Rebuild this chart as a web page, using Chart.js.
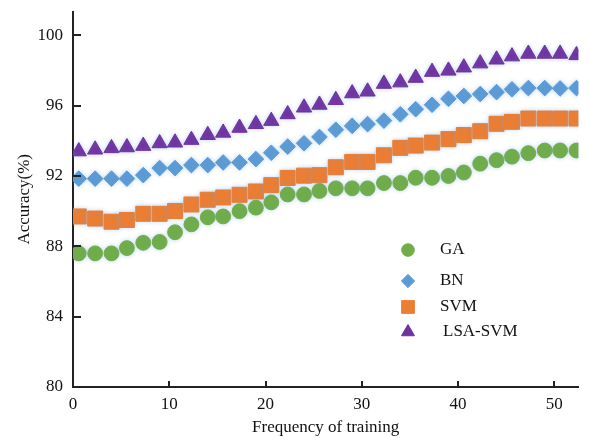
<!DOCTYPE html>
<html>
<head>
<meta charset="utf-8">
<script src="https://cdn.jsdelivr.net/npm/chart.js@4/dist/chart.umd.min.js"></script>
<style>
  html, body { margin: 0; padding: 0; background: #fff; }
  #wrap { width: 590px; height: 438px; position: relative; }
</style>
</head>
<body>
<div id="wrap"><canvas id="accChart" width="590" height="438"></canvas></div>
<script>
// training frequency (x position of each marker)
const trainingFreq = [0.6, 2.3, 4.0, 5.6, 7.3, 9.0, 10.6, 12.3, 14.0, 15.6, 17.3, 19.0, 20.6, 22.3, 24.0, 25.6,
  27.3, 29.0, 30.6, 32.3, 34.0, 35.6, 37.3, 39.0, 40.6, 42.3, 44.0, 45.6, 47.3, 49.0, 50.6, 52.3];

// accuracy (%) per method
const gaAcc = [87.6, 87.6, 87.6, 87.9, 88.2, 88.25, 88.8, 89.25, 89.65, 89.7, 90.0, 90.2, 90.5, 90.95, 90.95, 91.15,
  91.3, 91.3, 91.3, 91.6, 91.6, 91.9, 91.9, 92.0, 92.2, 92.7, 92.9, 93.1, 93.3, 93.45, 93.45, 93.45];
const bnAcc = [91.85, 91.85, 91.85, 91.85, 92.05, 92.45, 92.45, 92.62, 92.62, 92.77, 92.77, 92.96, 93.32, 93.67, 93.86, 94.22,
  94.63, 94.85, 94.95, 95.15, 95.51, 95.8, 96.05, 96.39, 96.55, 96.66, 96.77, 96.93, 97.0, 97.0, 96.98, 97.0];
const svmAcc = [89.7, 89.58, 89.4, 89.5, 89.85, 89.85, 90.01, 90.38, 90.65, 90.78, 90.93, 91.12, 91.48, 91.89, 92.02, 92.05,
  92.5, 92.8, 92.8, 93.18, 93.6, 93.73, 93.9, 94.1, 94.33, 94.55, 94.97, 95.08, 95.27, 95.27, 95.27, 95.27];
const lsaSvmAcc = [93.4, 93.5, 93.58, 93.63, 93.71, 93.86, 93.9, 94.05, 94.33, 94.46, 94.74, 94.95, 95.13, 95.51, 95.89, 96.05,
  96.32, 96.7, 96.8, 97.24, 97.32, 97.58, 97.92, 97.99, 98.17, 98.4, 98.62, 98.8, 98.95, 98.95, 98.95, 98.87];

const xTicks = [0, 10, 20, 30, 40, 50];
const yTicks = [80, 84, 88, 92, 96, 100];

const seriesNames = ['GA', 'BN', 'SVM', 'LSA-SVM'];
const seriesColors = ['#70ad47', '#5b9bd5', '#ed7d31', '#7030a0'];
const seriesStyles = ['circle', 'rectRot', 'rect', 'triangle'];
const seriesRadius = [7.4, 7.8, 10.6, 8.8];

const FONT = "'Liberation Serif', 'Times New Roman', serif";
const AXIS_COLOR = '#222';

const toPoints = (ys) => ys.map((y, i) => ({ x: trainingFreq[i], y }));

// inward tick marks + soft glow under markers
const axisDecor = {
  id: 'axisDecor',
  beforeDatasetsDraw(chart) {
    chart.ctx.save();
    chart.ctx.shadowColor = 'rgba(120,170,220,0.45)';
    chart.ctx.shadowBlur = 4;
  },
  afterDatasetsDraw(chart) {
    chart.ctx.restore();
  },
  afterDraw(chart) {
    const ctx = chart.ctx;
    const { x, y } = chart.scales;
    const area = chart.chartArea;
    ctx.save();
    ctx.strokeStyle = AXIS_COLOR;
    ctx.lineWidth = 2;
    yTicks.forEach(v => {
      if (v === 80) return;
      const py = Math.round(y.getPixelForValue(v));
      ctx.beginPath();
      ctx.moveTo(area.left, py);
      ctx.lineTo(area.left + 8, py);
      ctx.stroke();
    });
    xTicks.forEach(v => {
      if (v === 0) return;
      const px = Math.round(x.getPixelForValue(v));
      ctx.beginPath();
      ctx.moveTo(px, area.bottom);
      ctx.lineTo(px, area.bottom - 6);
      ctx.stroke();
    });
    ctx.restore();
  }
};

// legend inside the plot
const innerLegend = {
  id: 'innerLegend',
  afterDraw(chart) {
    const ctx = chart.ctx;
    const rows = [250, 281, 307, 332];
    ctx.save();
    ctx.font = '17px ' + FONT;
    ctx.textBaseline = 'middle';
    rows.forEach((ry, i) => {
      ctx.fillStyle = seriesColors[i];
      ctx.strokeStyle = seriesColors[i];
      ctx.lineWidth = 1;
      Chart.helpers.drawPoint(ctx, { pointStyle: seriesStyles[i], radius: seriesRadius[i] * 0.85, rotation: 0, borderWidth: 1 }, 408, ry);
      ctx.fillStyle = '#111';
      ctx.fillText(seriesNames[i], i === 3 ? 443 : 440, ry);
    });
    ctx.restore();
  }
};

const noEdgePad = (s) => {
  s.paddingTop = 0;
  s.paddingBottom = 0;
  s.paddingLeft = 0;
  s.paddingRight = 0;
};

const ctx = document.getElementById('accChart').getContext('2d');
const chart = new Chart(ctx, {
  type: 'scatter',
  data: {
    datasets: [gaAcc, bnAcc, svmAcc, lsaSvmAcc].map((arr, i) => ({
      label: seriesNames[i],
      data: toPoints(arr),
      pointStyle: seriesStyles[i],
      pointRadius: seriesRadius[i],
      pointBackgroundColor: seriesColors[i],
      pointBorderColor: seriesColors[i],
      pointBorderWidth: 1,
      showLine: false
    }))
  },
  options: {
    responsive: false,
    animation: false,
    devicePixelRatio: 1,
    layout: { padding: { top: 5, right: 7, bottom: 0, left: 0 } },
    plugins: {
      legend: { display: false },
      tooltip: { enabled: false }
    },
    scales: {
      x: {
        type: 'linear',
        min: 0,
        max: 52.5,
        afterFit: (s) => { s.height = 51; noEdgePad(s); },
        afterBuildTicks: (s) => { s.ticks = xTicks.map(v => ({ value: v })); },
        grid: { display: false, drawTicks: false },
        border: { display: true, color: AXIS_COLOR, width: 2 },
        ticks: { color: '#111', font: { family: FONT, size: 17 }, padding: 7, maxRotation: 0 },
        title: {
          display: true,
          text: 'Frequency of training',
          color: '#111',
          font: { family: FONT, size: 17 },
          padding: { top: 0, bottom: 0 }
        }
      },
      y: {
        type: 'linear',
        min: 80,
        max: 101.35,
        afterFit: (s) => { s.width = 73; noEdgePad(s); },
        afterBuildTicks: (s) => { s.ticks = yTicks.map(v => ({ value: v })); },
        grid: { display: false, drawTicks: false },
        border: { display: true, color: AXIS_COLOR, width: 2 },
        ticks: { color: '#111', font: { family: FONT, size: 17 }, padding: 10 },
        title: {
          display: true,
          text: 'Accuracy(%)',
          color: '#111',
          font: { family: FONT, size: 17 },
          padding: { top: 14, bottom: 0 }
        }
      }
    }
  },
  plugins: [axisDecor, innerLegend]
});
</script>
</body>
</html>
